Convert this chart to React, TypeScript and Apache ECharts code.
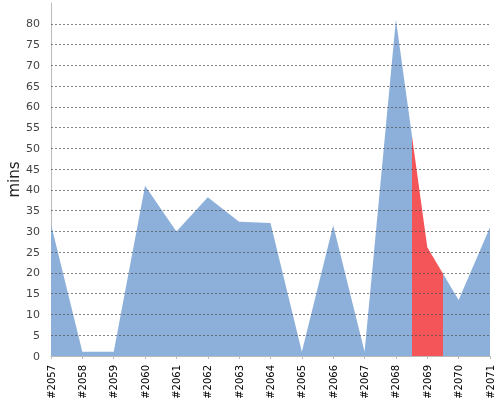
import React, { useEffect, useRef } from "react";
import * as echarts from "echarts";

const categories = ["#2057", "#2058", "#2059", "#2060", "#2061", "#2062", "#2063", "#2064", "#2065", "#2066", "#2067", "#2068", "#2069", "#2070", "#2071"];
const minutes = [31.7, 1, 1, 41, 30, 38.2, 32.3, 32, 1, 31.5, 1, 81, 26.2, 13.5, 31];
const gridValues = [5, 10, 15, 20, 25, 30, 35, 40, 45, 50, 55, 60, 65, 70, 75, 80];
const highlightIndex = 12;

const BLUE = "#8db0db";
const RED = "#f45558";
const FONT = "DejaVu Sans";

export default function App() {
  const ref = useRef<HTMLDivElement>(null);
  useEffect(() => {
    if (!ref.current) return;
    const chart = echarts.init(ref.current, null, { renderer: "svg" });
    chart.setOption({
      animation: false,
      grid: { left: 51, right: 10, top: 3, bottom: 44, containLabel: false, outerBoundsMode: "none" },
      xAxis: {
        type: "value",
        min: 0,
        max: categories.length - 1,
        interval: 1,
        offset: 4,
        axisLine: { show: true, lineStyle: { color: "#bbbbbb", width: 1 } },
        axisTick: { show: true, length: 3, lineStyle: { color: "#bbbbbb" } },
        axisLabel: {
          rotate: 90,
          margin: 5,
          fontSize: 10,
          color: "#000",
          fontFamily: FONT,
          formatter: (v: number) => categories[Math.round(v)] ?? "",
        },
        splitLine: { show: false },
      },
      yAxis: {
        type: "value",
        min: 0,
        max: 85,
        interval: 5,
        offset: 3,
        name: "mins",
        nameLocation: "middle",
        nameRotate: 90,
        nameGap: 27,
        nameMoveOverlap: false,
        nameTextStyle: { fontSize: 15, color: "#222", fontFamily: FONT },
        axisLine: { show: true, lineStyle: { color: "#bbbbbb", width: 1 } },
        axisTick: { show: false },
        axisLabel: {
          margin: 8,
          fontSize: 11,
          color: "#444",
          fontFamily: FONT,
          formatter: (v: number) => (v === 85 ? "" : String(v)),
        },
        splitLine: { show: false },
      },
      visualMap: {
        type: "piecewise",
        show: false,
        dimension: 0,
        seriesIndex: 0,
        pieces: [{ gt: highlightIndex - 0.5, lte: highlightIndex + 0.5, color: RED }],
        outOfRange: { color: BLUE },
      },
      series: [
        {
          type: "line",
          data: minutes.map((v, i) => [i, v]),
          symbol: "none",
          lineStyle: { width: 0 },
          areaStyle: { opacity: 1 },
          markLine: {
            silent: true,
            symbol: "none",
            label: { show: false },
            lineStyle: { color: "rgba(80,80,80,0.7)", type: [2, 2], width: 1 },
            data: gridValues.map((v) => ({ yAxis: v })),
          },
        },
      ],
    });
    return () => chart.dispose();
  }, []);
  return <div ref={ref} style={{ position: "fixed", left: 0, top: 0, width: 500, height: 400 }} />;
}
